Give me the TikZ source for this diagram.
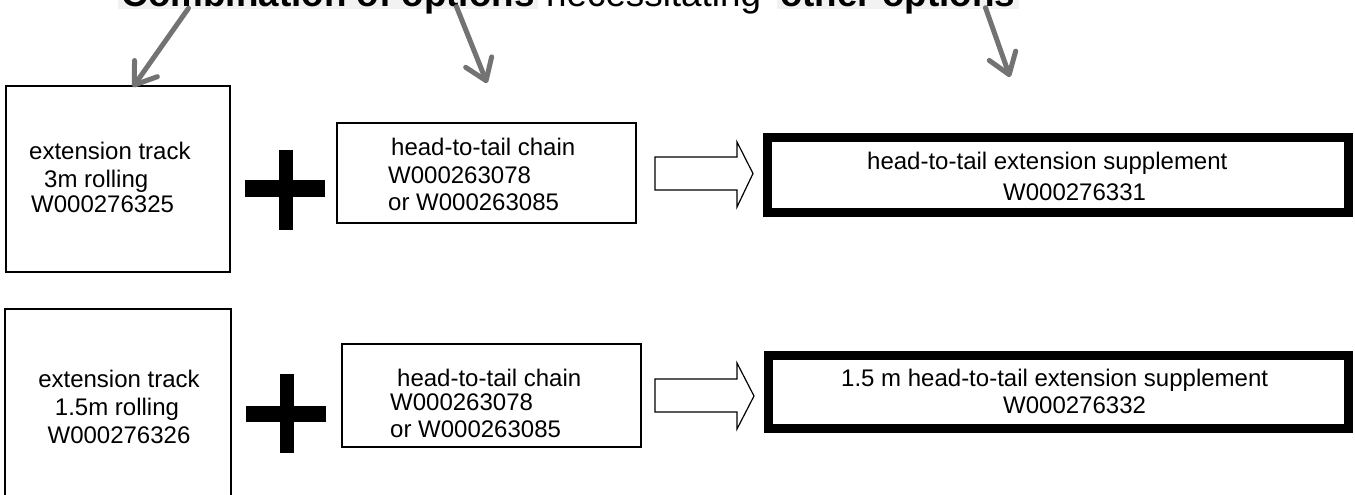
\documentclass[tikz,border=0pt]{standalone}
\usepackage{fontspec}
\setmainfont{Liberation Sans}
\usetikzlibrary{arrows.meta}
\definecolor{pointergray}{RGB}{115,115,115}
\definecolor{hilitegray}{RGB}{242,242,242}
\begin{document}
\begin{tikzpicture}[x=1pt,y=-1pt,
  txt/.style={anchor=base west, inner sep=0pt, font=\fontsize{24}{28}\selectfont},
  frame/.style={draw=black, line width=1.2pt, inner sep=0pt},
  result/.style={draw=black, line width=9pt, inner sep=0pt},
  heading/.style={anchor=base west, inner ysep=0pt, inner xsep=3.5pt, text depth=3pt,
    font=\fontsize{36.8}{42}\selectfont},
  headbold/.style={heading, fill=hilitegray, font=\fontsize{36.8}{42}\selectfont\bfseries},
  pointer/.style={draw=pointergray, line width=5pt, line cap=round,
    -{Straight Barb[length=20pt,width=28pt,round]}},
  hollow/.style={draw=black, line width=1.2pt, fill=white, line join=miter},
  plus/.style={fill=black}
]
\useasboundingbox (0,0) rectangle (1355,495);
\fill[white] (0,0) rectangle (1355,495);
\clip (0,0) rectangle (1355,495);

% heading (partly above the page edge)
\node[headbold] (t1) at (118,6.5) {Combination of options};
\node[heading, inner xsep=0pt] (t2) at (546,6.5) {necessitating};
\node[headbold] (t3) at (776.5,6.5) {other options};

% first row
\node[frame, minimum width=224, minimum height=186] (A) at (118,179) {};
\node[txt] (a1) at (29,159) {extension track};
\node[txt] (a2) at (44,187) {3m rolling};
\node[txt] (a3) at (31,212) {W000276325};

\fill[plus] (279,150) rectangle (293,230);
\fill[plus] (245,180) rectangle (325,197);

\node[frame, minimum width=299, minimum height=100] (B) at (486.5,173) {};
\node[txt] (b1) at (391,155) {head-to-tail chain};
\node[txt] (b2) at (388,183) {W000263078};
\node[txt] (b3) at (388,210) {or W000263085};

\draw[hollow] (655,157) -- (737,157) -- (737,142) -- (753,173.5) -- (737,207)
  -- (737,190) -- (655,190) -- cycle;

\node[result, minimum width=581, minimum height=75] (R1) at (1058,175) {};
\node[txt] (r1a) at (867,169) {head-to-tail extension supplement};
\node[txt] (r1b) at (1003,200) {W000276331};

% second row
\node[frame, minimum width=226, minimum height=187] (C) at (118,402.5) {};
\node[txt, anchor=base] (c1) at (119,387) {extension track};
\node[txt, anchor=base] (c2) at (117,415) {1.5m rolling};
\node[txt, anchor=base] (c3) at (119,443) {W000276326};

\fill[plus] (280,374) rectangle (294,453);
\fill[plus] (246,406) rectangle (326,422);

\node[frame, minimum width=299, minimum height=103] (D) at (491.5,395.5) {};
\node[txt] (d1) at (397,386) {head-to-tail chain};
\node[txt] (d2) at (390,410) {W000263078};
\node[txt] (d3) at (390,437) {or W000263085};

\draw[hollow] (655,379) -- (737,379) -- (737,363) -- (754,396) -- (737,429)
  -- (737,412) -- (655,412) -- cycle;

\node[result, minimum width=580, minimum height=73] (R2) at (1058.5,392) {};
\node[txt] (r2a) at (841,386) {1.5 m head-to-tail extension supplement};
\node[txt] (r2b) at (1003,413) {W000276332};

% pointers from the heading
\coordinate (p1) at (133,87);
\coordinate (p2) at (487,83);
\coordinate (p3) at (1010,77);
\draw[pointer] ([xshift=70.5pt,yshift=1.5pt]t1.south west) -- (p1);
\draw[pointer] ([xshift=338.5pt,yshift=3pt]t1.south west) -- (p2);
\draw[pointer] ([xshift=209pt,yshift=2pt]t3.south west) -- (p3);
\end{tikzpicture}
\end{document}
